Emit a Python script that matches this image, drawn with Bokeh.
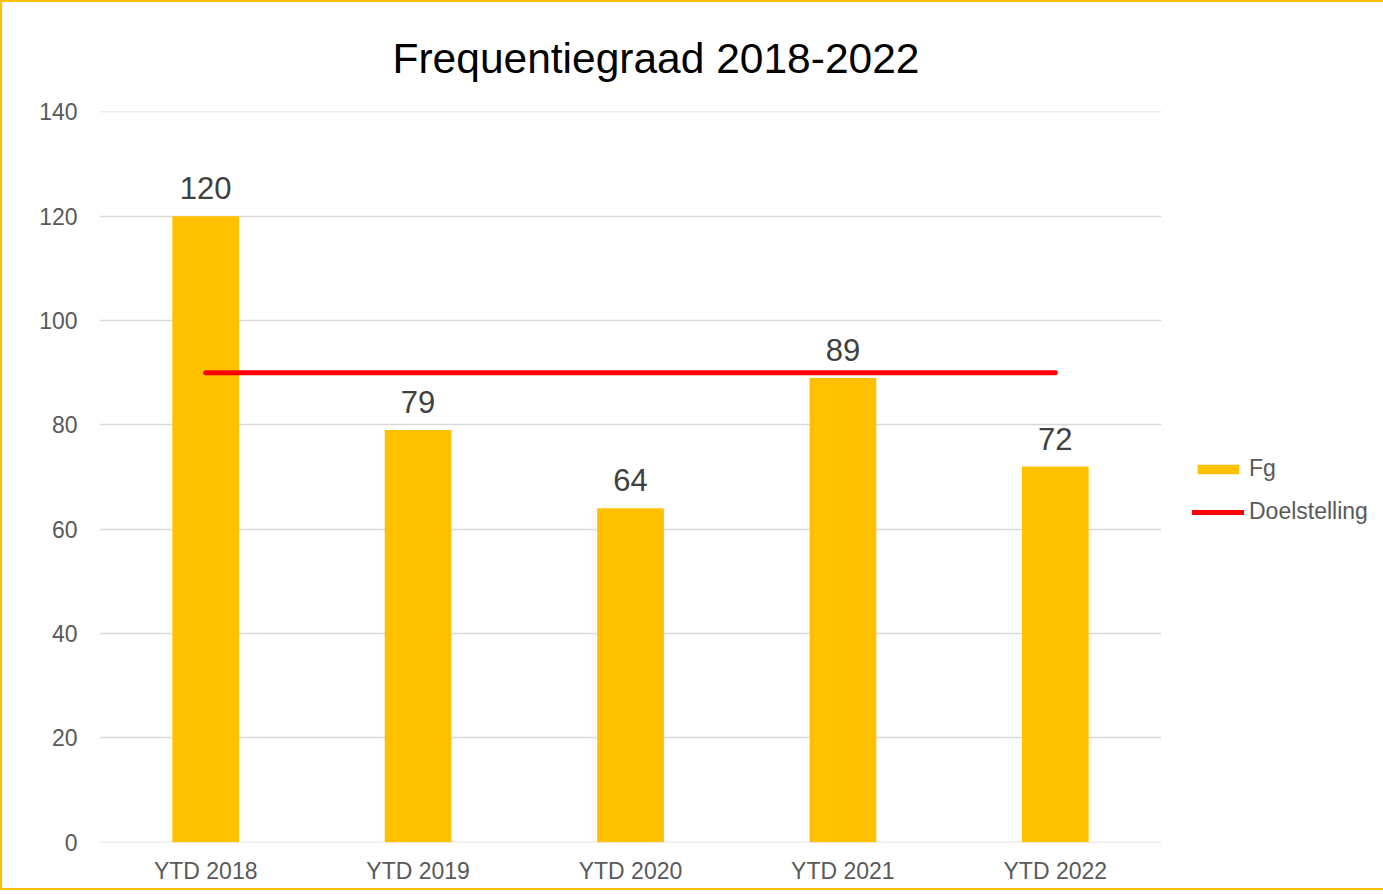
from bokeh.plotting import figure
from bokeh.models import ColumnDataSource, Legend, LegendItem, Range1d, FactorRange, Title, LabelSet, SingleIntervalTicker
from bokeh.core.properties import value
from bokeh.embed import file_html
from bokeh.resources import INLINE

categories = ["YTD 2018", "YTD 2019", "YTD 2020", "YTD 2021", "YTD 2022"]
fg_values = [120, 79, 64, 89, 72]
target_values = [90, 90, 90, 90, 90]

FONT = "Liberation Sans"
src = ColumnDataSource(dict(cat=categories, fg=fg_values, target=target_values,
                            lbl=[str(v) for v in fg_values]))

p = figure(frame_width=1062, frame_height=731, x_range=FactorRange(*categories), y_range=Range1d(-0.06, 140.06),
           output_backend="svg", toolbar_location=None,
           min_border_left=97, min_border_right=214, min_border_top=109, min_border_bottom=46)
p.styles = {"border": "2px solid #FFC000", "box-sizing": "border-box"}
p.outline_line_color = None

t = Title(text="Frequentiegraad 2018-2022", text_font=FONT, text_font_size="42.5px",
          text_font_style="normal", text_color="#000000", align="left", offset=293, standoff=59)
p.add_layout(t, "above")

bars = p.vbar(x="cat", top="fg", width=0.314, source=src, color="#FFC000", line_color=None)
line = p.line(x="cat", y="target", source=src, line_color="#FF0000", line_width=5, line_cap="round")

labels = LabelSet(x="cat", y="fg", text="lbl", source=src, text_align="center",
                  text_baseline="alphabetic", y_offset=17, text_font=value(FONT),
                  text_font_size=value("31px"), text_color="#404040")
p.add_layout(labels)

p.yaxis.ticker = SingleIntervalTicker(interval=20)
for ax in (p.xaxis, p.yaxis):
    ax.axis_line_color = None
    ax.major_tick_line_color = None
    ax.minor_tick_line_color = None
    ax.major_label_text_font = FONT
    ax.major_label_text_font_size = "23px"
    ax.major_label_text_color = "#595959"
p.yaxis.major_label_standoff = 16
p.xaxis.major_label_standoff = 9

p.xgrid.grid_line_color = None
p.ygrid.grid_line_color = "#D9D9D9"
p.ygrid.grid_line_width = 1.5
p.ygrid.ticker = SingleIntervalTicker(interval=20)

legend = Legend(items=[LegendItem(label="Fg", renderers=[bars]),
                       LegendItem(label="Doelstelling", renderers=[line])],
                location=(31, 317), border_line_color=None, background_fill_alpha=0,
                label_text_font=FONT, label_text_font_size="23px", label_text_color="#595959",
                glyph_width=52, glyph_height=12, label_standoff=5, spacing=16,
                padding=0, margin=0)
p.add_layout(legend, "right")

open("out.html", "w").write(file_html(p, INLINE))
